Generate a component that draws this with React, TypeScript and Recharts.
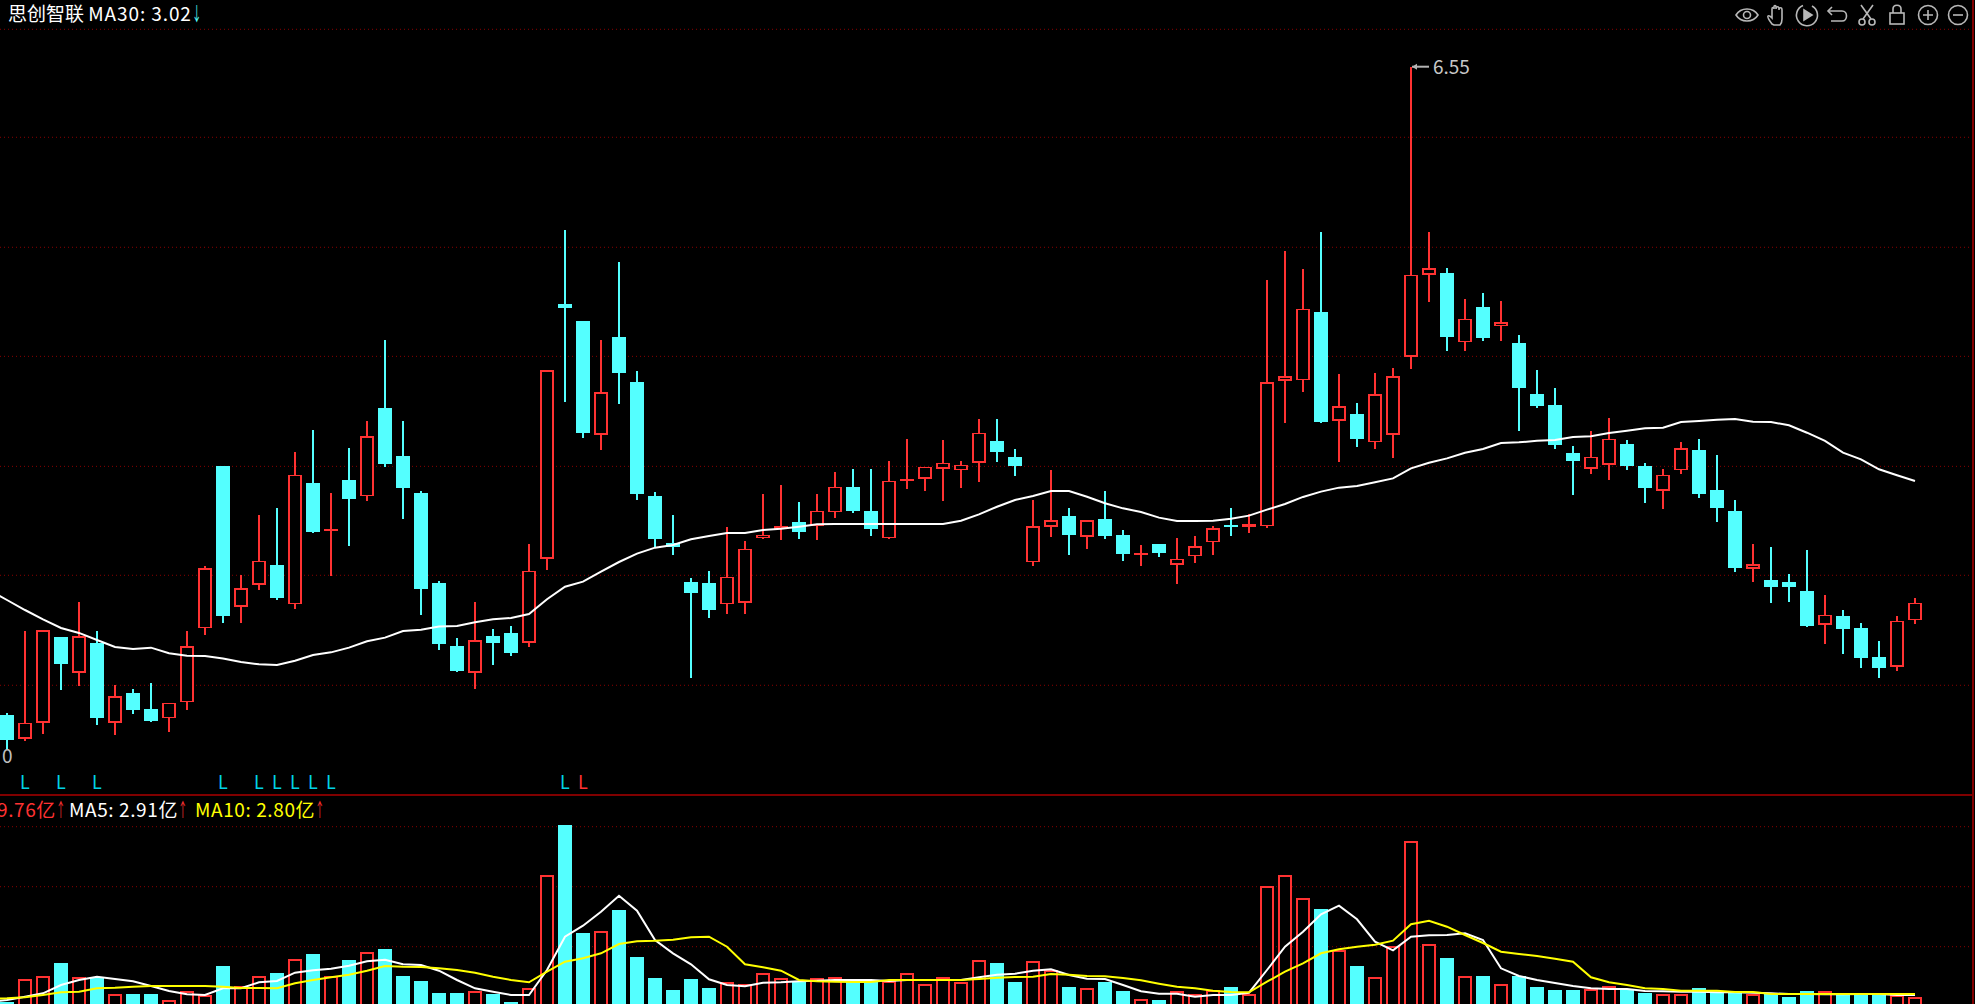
import React from 'react';
import { ComposedChart, Bar, Line, XAxis, YAxis, CartesianGrid, ReferenceDot } from 'recharts';

const RED = '#ff3232';
const CYAN = '#54ffff';
const GRID = '#8a0000';
const FONT = '"Noto Sans CJK SC", "Noto Sans", sans-serif';

// first slot sits just left of the window: only the averages run through it
const opens = [
  null,
  1.040, 0.836, 0.972, 1.703, 1.397, 1.652, 0.972, 1.227, 1.091, 1.014,
  1.150, 1.779, 3.156, 1.958, 2.145, 2.315, 1.983, 3.012, 2.612, 3.037,
  2.901, 3.649, 3.241, 2.927, 2.162, 1.626, 1.397, 1.711, 1.737, 1.652,
  2.366, 4.533, 4.389, 3.420, 4.253, 3.870, 2.901, 2.502, 2.170, 2.162,
  1.983, 1.992, 2.544, 2.621, 2.680, 2.646, 2.765, 2.978, 2.774, 2.544,
  3.029, 3.046, 3.131, 3.122, 3.182, 3.369, 3.233, 2.340, 2.638, 2.731,
  2.553, 2.706, 2.570, 2.400, 2.493, 2.315, 2.391, 2.510, 2.655, 2.638,
  2.646, 3.879, 3.887, 4.465, 3.539, 3.598, 3.360, 3.420, 4.083, 4.780,
  4.797, 4.210, 4.508, 4.346, 4.202, 3.768, 3.675, 3.267, 3.131, 3.165,
  3.343, 3.156, 2.944, 3.122, 3.292, 2.952, 2.774, 2.281, 2.187, 2.170,
  2.094, 1.805, 1.881, 1.779, 1.533, 1.448, 1.847,
];

const closes = [
  null,
  0.827, 0.972, 1.762, 1.473, 1.711, 1.014, 1.201, 1.082, 0.989, 1.142,
  1.626, 2.289, 1.881, 2.119, 2.349, 2.034, 3.080, 2.595, 2.621, 2.876,
  3.411, 3.173, 2.969, 2.111, 1.643, 1.414, 1.677, 1.652, 1.567, 2.264,
  3.972, 4.499, 3.437, 3.785, 3.947, 2.918, 2.536, 2.468, 2.077, 1.932,
  2.213, 2.451, 2.570, 2.647, 2.595, 2.774, 2.978, 2.774, 2.621, 3.029,
  3.046, 3.148, 3.182, 3.165, 3.437, 3.275, 3.156, 2.646, 2.697, 2.570,
  2.697, 2.561, 2.408, 2.417, 2.417, 2.366, 2.476, 2.629, 2.638, 2.664,
  3.870, 3.921, 4.491, 3.530, 3.666, 3.386, 3.768, 3.921, 4.780, 4.839,
  4.253, 4.406, 4.244, 4.380, 3.819, 3.666, 3.335, 3.199, 3.233, 3.386,
  3.156, 2.969, 3.080, 3.309, 2.918, 2.799, 2.289, 2.323, 2.128, 2.128,
  1.796, 1.890, 1.771, 1.524, 1.439, 1.839, 1.992,
];

const highs = [
  null,
  1.057, 1.754, 1.762, 1.703, 2.000, 1.754, 1.295, 1.261, 1.312, 1.142,
  1.754, 2.306, 3.156, 2.230, 2.740, 2.799, 3.275, 3.462, 2.927, 3.309,
  3.539, 4.227, 3.539, 2.944, 2.179, 1.694, 2.000, 1.771, 1.796, 2.493,
  3.972, 5.162, 4.389, 4.227, 4.890, 3.964, 2.935, 2.740, 2.204, 2.264,
  2.638, 2.519, 2.918, 2.995, 2.850, 2.918, 3.105, 3.131, 3.131, 3.199,
  3.386, 3.148, 3.377, 3.199, 3.556, 3.556, 3.301, 2.867, 3.122, 2.799,
  2.697, 2.944, 2.612, 2.485, 2.493, 2.544, 2.561, 2.646, 2.799, 2.748,
  4.737, 4.984, 4.831, 5.145, 3.938, 3.692, 3.947, 3.989, 6.550, 5.145,
  4.839, 4.576, 4.627, 4.559, 4.270, 3.972, 3.819, 3.326, 3.454, 3.564,
  3.377, 3.182, 3.131, 3.360, 3.386, 3.250, 2.867, 2.493, 2.468, 2.238,
  2.442, 2.060, 1.932, 1.822, 1.669, 1.881, 2.034,
];

const lows = [
  null,
  0.751, 0.819, 0.878, 1.252, 1.286, 0.955, 0.870, 1.048, 0.980, 0.895,
  1.082, 1.720, 1.822, 1.822, 2.102, 2.017, 1.941, 2.587, 2.221, 2.476,
  2.859, 3.148, 2.706, 1.890, 1.592, 1.405, 1.261, 1.465, 1.541, 1.618,
  2.272, 3.700, 3.394, 3.292, 3.683, 2.867, 2.468, 2.400, 1.354, 1.864,
  1.898, 1.898, 2.536, 2.527, 2.536, 2.527, 2.714, 2.757, 2.561, 2.536,
  2.961, 2.944, 2.859, 2.969, 3.020, 3.190, 3.071, 2.306, 2.553, 2.400,
  2.451, 2.536, 2.349, 2.306, 2.383, 2.153, 2.332, 2.400, 2.561, 2.587,
  2.629, 3.522, 3.785, 3.522, 3.190, 3.318, 3.301, 3.224, 3.981, 4.550,
  4.134, 4.134, 4.219, 4.219, 3.454, 3.649, 3.301, 2.910, 3.088, 3.037,
  3.122, 2.842, 2.791, 3.088, 2.884, 2.680, 2.255, 2.170, 1.992, 2.000,
  1.788, 1.643, 1.558, 1.439, 1.354, 1.414, 1.813,
];

const ma30 = [
  2.102,
  2.017, 1.932, 1.853, 1.779, 1.737, 1.677, 1.618, 1.601, 1.612, 1.564,
  1.544, 1.541, 1.519, 1.490, 1.470, 1.465, 1.501, 1.550, 1.572, 1.612,
  1.666, 1.697, 1.754, 1.765, 1.791, 1.796, 1.827, 1.853, 1.864, 1.898,
  2.023, 2.130, 2.173, 2.258, 2.340, 2.411, 2.462, 2.485, 2.533, 2.561,
  2.587, 2.587, 2.612, 2.623, 2.640, 2.660, 2.663, 2.663, 2.663, 2.663,
  2.663, 2.663, 2.663, 2.691, 2.745, 2.810, 2.867, 2.901, 2.943, 2.943,
  2.895, 2.839, 2.796, 2.765, 2.717, 2.689, 2.689, 2.691, 2.708, 2.734,
  2.785, 2.833, 2.893, 2.938, 2.972, 2.986, 3.017, 3.051, 3.136, 3.184,
  3.221, 3.269, 3.301, 3.352, 3.357, 3.371, 3.377, 3.403, 3.408, 3.437,
  3.456, 3.476, 3.482, 3.530, 3.539, 3.550, 3.556, 3.533, 3.530, 3.502,
  3.439, 3.369, 3.269, 3.213, 3.128, 3.077, 3.029,
];

const volumes = [
  null,
  2.03, 4.33, 4.63, 5.90, 4.53, 4.53, 2.83, 2.80, 2.80, 2.23,
  3.13, 2.70, 5.60, 3.63, 4.63, 4.90, 6.33, 6.80, 4.63, 6.20,
  7.03, 7.30, 4.60, 4.10, 2.90, 2.90, 3.13, 2.80, 2.00, 3.37,
  14.73, 19.70, 8.90, 9.13, 11.20, 6.50, 4.40, 3.20, 4.30, 3.40,
  3.97, 3.77, 4.87, 4.37, 4.03, 4.37, 4.53, 4.03, 4.03, 4.07,
  4.87, 3.77, 4.53, 4.03, 6.17, 5.90, 4.00, 6.07, 5.17, 3.50,
  3.37, 4.00, 3.10, 2.27, 2.20, 3.07, 2.77, 3.20, 3.50, 2.83,
  13.57, 14.73, 12.37, 11.30, 7.20, 5.60, 4.53, 7.63, 18.13, 7.83,
  6.40, 4.63, 4.60, 3.77, 4.60, 3.50, 3.20, 3.20, 3.30, 3.60,
  3.30, 2.87, 2.77, 2.77, 3.37, 2.97, 2.87, 2.83, 2.87, 2.50,
  3.10, 3.07, 2.70, 2.70, 2.70, 2.70, 2.53,
];

const volMa5 = [
  2.00,
  2.20, 2.53, 2.87, 3.70, 4.20, 4.53, 4.30, 4.07, 3.60, 3.10,
  2.77, 2.70, 3.37, 3.37, 3.97, 4.10, 4.93, 5.17, 5.33, 5.63,
  6.07, 6.23, 5.77, 5.70, 5.13, 4.20, 3.37, 3.03, 2.70, 2.70,
  5.20, 8.53, 9.63, 11.03, 12.63, 11.13, 8.20, 6.87, 5.77, 4.27,
  3.70, 3.57, 3.93, 3.97, 4.07, 4.13, 4.20, 4.20, 4.20, 4.10,
  4.20, 4.20, 4.20, 4.20, 4.47, 4.73, 4.83, 5.13, 5.27, 4.70,
  4.33, 4.30, 3.70, 3.07, 2.83, 2.83, 2.53, 2.70, 2.70, 2.93,
  5.20, 7.53, 9.03, 10.77, 11.63, 10.27, 8.03, 7.17, 8.53, 8.67,
  8.70, 8.87, 8.20, 5.37, 4.60, 4.20, 3.90, 3.60, 3.37, 3.30,
  3.30, 3.10, 3.07, 3.03, 3.03, 2.97, 2.97, 2.93, 2.87, 2.80,
  2.80, 2.77, 2.77, 2.80, 2.80, 2.70, 2.70,
];

const volMa10 = [
  2.35,
  2.37, 2.47, 2.70, 2.97, 3.03, 3.37, 3.43, 3.53, 3.60, 3.60,
  3.60, 3.60, 3.53, 3.40, 3.40, 3.37, 3.87, 4.20, 4.47, 4.73,
  5.13, 5.60, 5.53, 5.50, 5.37, 5.20, 4.93, 4.53, 4.20, 3.97,
  5.03, 6.03, 6.37, 6.87, 7.80, 8.07, 8.13, 8.23, 8.47, 8.53,
  7.53, 5.77, 5.47, 5.13, 4.20, 4.07, 4.03, 4.00, 4.00, 4.20,
  4.20, 4.20, 4.20, 4.20, 4.30, 4.43, 4.50, 4.53, 4.80, 4.73,
  4.60, 4.57, 4.40, 4.17, 3.83, 3.53, 3.37, 3.13, 3.00, 2.97,
  4.03, 5.03, 5.87, 6.87, 7.27, 7.53, 7.73, 8.13, 9.77, 10.13,
  9.53, 8.70, 7.90, 7.03, 6.80, 6.60, 6.33, 6.03, 4.47, 3.97,
  3.70, 3.37, 3.30, 3.13, 3.13, 3.13, 3.00, 3.00, 2.80, 2.80,
  2.80, 2.80, 2.80, 2.80, 2.80, 2.80, 2.80,
];

const priceGrid = [6.868, 5.95, 5.015, 4.088, 3.153, 2.227, 1.292];
const volumeGrid = [19.53, 13.53, 7.53];
const cyanMarks = [2, 4, 6, 13, 15, 16, 17, 18, 19, 32];
const redMarks = [33];
const MARK_LEVEL = 0.45;
const PEAK_INDEX = 79;

const data = opens.map((open, i) => ({
  idx: i,
  open,
  close: closes[i],
  high: highs[i],
  low: lows[i],
  ma30: ma30[i],
  vol: volumes[i],
  ma5: volMa5[i],
  ma10: volMa10[i],
}));

const margin = { top: 0, right: 6, bottom: 0, left: -20 };
const xPadding = { left: 0, right: 45 };

// body is placed inside the high-low range the bar already got from the scale
const Candle = (props: any) => {
  const { x, y, width, height, payload } = props;
  if (payload.open == null) return null;
  const up = payload.close >= payload.open;
  const color = up ? RED : CYAN;
  const perUnit = height / (payload.high - payload.low);
  const top = y + (payload.high - Math.max(payload.open, payload.close)) * perUnit;
  const bodyH = Math.max(Math.abs(payload.close - payload.open) * perUnit, 2);
  return (
    <g shapeRendering="crispEdges">
      <rect x={x + width / 2 - 1} y={y} width={2} height={height} fill={color} />
      <rect x={x} y={top} width={width} height={bodyH} fill={color} />
      {up && bodyH > 3 && <rect x={x + 2} y={top + 1.5} width={width - 4} height={bodyH - 3} fill="#000" />}
    </g>
  );
};

// the real zero is below the window, so red bars stay open at the bottom
const VolumeBar = (props: any) => {
  const { x, y, width, height, payload } = props;
  if (payload.open == null) return null;
  if (payload.close >= payload.open) {
    return (
      <path
        d={`M${x + 1},${y + height}V${y + 1}H${x + width - 1}V${y + height}`}
        fill="#000"
        stroke={RED}
        strokeWidth={2}
        shapeRendering="crispEdges"
      />
    );
  }
  return <rect x={x} y={y} width={width} height={height} fill={CYAN} shapeRendering="crispEdges" />;
};

const Mark = (color: string) => (props: any) => (
  <text x={props.cx} y={props.cy} fill={color} fontSize={18} fontFamily={FONT} textAnchor="middle" dominantBaseline="middle">
    L
  </text>
);

const PeakLabel = (props: any) => {
  const { cx, cy } = props;
  return (
    <g>
      <path d={`M${cx + 1},${cy}H${cx + 18}`} stroke="#b4b4b4" strokeWidth={2} />
      <path d={`M${cx + 1},${cy}l5,-3v6z`} fill="#b4b4b4" />
      <text x={cx + 22} y={cy + 2} fill="#c8c8c8" fontSize={19} fontFamily={FONT} dominantBaseline="middle">
        {(highs[PEAK_INDEX] as number).toFixed(2)}
      </text>
    </g>
  );
};

const Label = ({ left, top, children }: { left: number; top: number; children: React.ReactNode }) => (
  <div style={{ position: 'absolute', left, top, lineHeight: '26px', fontSize: 19, fontFamily: FONT, whiteSpace: 'nowrap' }}>
    {children}
  </div>
);

// the arrow glyph is a full em wide, so squeeze it to sit tight against the value
const Arrow = ({ color, char }: { color: string; char: string }) => (
  <span style={{ color, display: 'inline-block', width: 10, transform: 'scaleX(0.5)', transformOrigin: 'left center' }}>{char}</span>
);

const Toolbar = () => (
  <svg width={260} height={30} style={{ position: 'absolute', left: 1715, top: 0 }} fill="none" stroke="#b8b8b8" strokeWidth={1.6}>
    <g transform="translate(32,15)">
      <path d="M-11,0C-6,-8 6,-8 11,0C6,8 -6,8 -11,0Z" />
      <circle r={3.5} />
    </g>
    <g transform="translate(62,15)">
      <path d="M-5,9C-8,5 -10,2 -9,1C-8,0 -6,2 -5,3V-6C-5,-8 -3,-8 -3,-6V-8C-3,-10 -1,-10 -1,-8V-6C-1,-9 2,-9 2,-6V-5C2,-8 5,-8 5,-5V4C5,7 4,9 3,10H-3Z" />
    </g>
    <g transform="translate(92,15)">
      <path d="M-4,-9.5A10.5,10.5 0 1 0 5,-9" />
      <path d="M-3,-5L5,0L-3,5Z" fill="#b8b8b8" />
    </g>
    <g transform="translate(122,15)">
      <path d="M-9,-4H5C11,-4 11,6 5,6H-6" />
      <path d="M-5,-8L-9,-4L-5,0" />
    </g>
    <g transform="translate(152,15)">
      <path d="M-6,-10L4,4M6,-10L-4,4" />
      <circle cx={-5} cy={7} r={3} />
      <circle cx={5} cy={7} r={3} />
    </g>
    <g transform="translate(182,15)">
      <rect x={-7} y={-2} width={14} height={11} />
      <path d="M-4,-2V-6C-4,-11 4,-11 4,-6V-2" />
    </g>
    <g transform="translate(213,15)">
      <circle r={9.5} />
      <path d="M-5,0H5M0,-5V5" />
    </g>
    <g transform="translate(243,15)">
      <circle r={9.5} />
      <path d="M-5,0H5" />
    </g>
  </svg>
);

export default function App() {
  return (
    <div style={{ position: 'absolute', left: 0, top: 0, width: 1975, height: 1004, background: '#000', overflow: 'hidden' }}>
      <div style={{ position: 'absolute', left: 0, top: 0 }}>
        <ComposedChart width={1975} height={795} data={data} margin={margin} barSize={14}>
          <CartesianGrid vertical={false} horizontalValues={priceGrid} stroke={GRID} strokeDasharray="1 3" />
          <XAxis dataKey="idx" hide padding={xPadding} />
          <YAxis hide type="number" domain={[0.3595, 7.117]} />
          <Bar dataKey={(d: any) => (d.low == null ? null : [d.low, d.high])} shape={<Candle />} isAnimationActive={false} />
          <Line dataKey="ma30" stroke="#fff" strokeWidth={2} dot={false} activeDot={false} isAnimationActive={false} />
          {cyanMarks.map((i) => (
            <ReferenceDot key={i} x={i} y={MARK_LEVEL} shape={Mark('#00d2e6')} />
          ))}
          {redMarks.map((i) => (
            <ReferenceDot key={i} x={i} y={MARK_LEVEL} shape={Mark(RED)} />
          ))}
          <ReferenceDot x={PEAK_INDEX} y={highs[PEAK_INDEX] as number} shape={<PeakLabel />} />
        </ComposedChart>
      </div>
      <div style={{ position: 'absolute', left: 0, top: 795 }}>
        <ComposedChart width={1975} height={209} data={data} margin={margin} barSize={14}>
          <CartesianGrid vertical={false} horizontalValues={volumeGrid} stroke={GRID} strokeDasharray="1 3" />
          <XAxis dataKey="idx" hide padding={xPadding} />
          <YAxis hide type="number" domain={[1.8, 22.7]} />
          <Bar dataKey="vol" shape={<VolumeBar />} isAnimationActive={false} />
          <Line dataKey="ma5" stroke="#fff" strokeWidth={2} dot={false} activeDot={false} isAnimationActive={false} />
          <Line dataKey="ma10" stroke="#ffff00" strokeWidth={2} dot={false} activeDot={false} isAnimationActive={false} />
        </ComposedChart>
      </div>

      <div style={{ position: 'absolute', left: 0, top: 794, width: 1974, height: 2, background: '#800000' }} />
      <div style={{ position: 'absolute', left: 1972, top: 0, width: 2, height: 1004, background: '#800000' }} />

      <Label left={8} top={0}>
        <span style={{ color: '#fff' }}>思创智联 </span>
        <span style={{ color: '#fff', letterSpacing: 0.9 }}>MA30: 3.02</span>
        <Arrow color={CYAN} char="↓" />
      </Label>
      <Label left={2} top={742}>
        <span style={{ color: '#c0c0c0' }}>0</span>
      </Label>
      <Label left={-3} top={796}>
        <span style={{ color: RED, letterSpacing: 0.6 }}>9.76亿</span>
        <Arrow color={RED} char="↑" />
      </Label>
      <Label left={69} top={796}>
        <span style={{ color: '#fff', letterSpacing: 0.6 }}>MA5: 2.91亿</span>
        <Arrow color={RED} char="↑" />
      </Label>
      <Label left={195} top={796}>
        <span style={{ color: '#ffff00', letterSpacing: 0.6 }}>MA10: 2.80亿</span>
        <Arrow color={RED} char="↑" />
      </Label>
      <Toolbar />
    </div>
  );
}
